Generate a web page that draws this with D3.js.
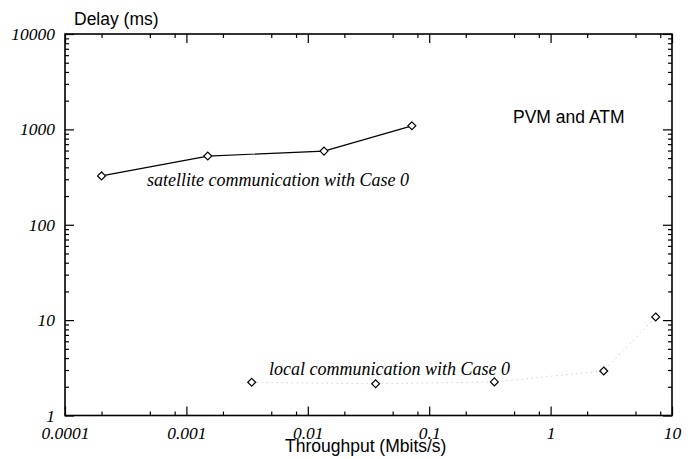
<!DOCTYPE html>
<html>
<head>
<meta charset="utf-8">
<script src="https://cdn.jsdelivr.net/npm/d3@7"></script>
<style>
  body { margin: 0; background: #fff; }
  svg { display: block; }
  .tick text { font-family: "Liberation Serif", serif; font-style: italic; font-size: 17.5px; fill: #000; }
</style>
</head>
<body>
<div id="container"></div>
<script>
// data (throughput in Mbits/s, delay in ms)
let satThroughput = [0.0002, 0.0015, 0.0136, 0.072];
let satDelay = [325, 525, 592, 1090];

let localThroughput = [0.00345, 0.0362, 0.344, 2.74, 7.34];
let localDelay = [2.23, 2.15, 2.25, 2.93, 10.8];

let xMajor = [0.0001, 0.001, 0.01, 0.1, 1, 10];
let xLabels = ["0.0001", "0.001", "0.01", "0.1", "1", "10"];
let yMajor = [1, 10, 100, 1000, 10000];
let yLabels = ["1", "10", "100", "1000", "10000"];
let xMinorMult = [2, 5, 8];
let yMinorMult = [2, 3, 4, 5, 6, 7, 8, 9];

let w = 696;
let h = 459;
let plotLeft = 65, plotRight = 672, plotTop = 34, plotBottom = 415.5;

let viz = d3.select("#container")
    .append("svg")
    .attr("width", w)
    .attr("height", h);

let xScale = d3.scaleLog().domain([0.0001, 10]).range([plotLeft, plotRight]);
let yScale = d3.scaleLog().domain([1, 10000]).range([plotBottom, plotTop]);

// minor tick values from the decades
let xMinor = [];
xMajor.slice(0, -1).forEach(d => xMinorMult.forEach(m => xMinor.push(d * m)));
let yMinor = [];
yMajor.slice(0, -1).forEach(d => yMinorMult.forEach(m => yMinor.push(d * m)));

function styleAxis(g) {
    g.select(".domain").remove();
    g.selectAll("line").attr("stroke", "#000").attr("stroke-width", 1.2);
}

// bottom
viz.append("g").attr("transform", "translate(0," + plotBottom + ")")
    .call(d3.axisBottom(xScale).tickValues(xMinor).tickSize(-4).tickFormat(""))
    .call(styleAxis);
viz.append("g").attr("transform", "translate(0," + plotBottom + ")")
    .call(d3.axisBottom(xScale).tickValues(xMajor).tickSize(-9).tickPadding(11)
        .tickFormat((d, i) => xLabels[i]))
    .call(styleAxis);
// top
viz.append("g").attr("transform", "translate(0," + plotTop + ")")
    .call(d3.axisTop(xScale).tickValues(xMinor).tickSize(-4).tickFormat(""))
    .call(styleAxis);
viz.append("g").attr("transform", "translate(0," + plotTop + ")")
    .call(d3.axisTop(xScale).tickValues(xMajor).tickSize(-9).tickFormat(""))
    .call(styleAxis);
// left
viz.append("g").attr("transform", "translate(" + plotLeft + ",0)")
    .call(d3.axisLeft(yScale).tickValues(yMinor).tickSize(-4).tickFormat(""))
    .call(styleAxis);
viz.append("g").attr("transform", "translate(" + plotLeft + ",0)")
    .call(d3.axisLeft(yScale).tickValues(yMajor).tickSize(-9).tickPadding(10)
        .tickFormat((d, i) => yLabels[i]))
    .call(styleAxis);
// right
viz.append("g").attr("transform", "translate(" + plotRight + ",0)")
    .call(d3.axisRight(yScale).tickValues(yMinor).tickSize(-4).tickFormat(""))
    .call(styleAxis);
viz.append("g").attr("transform", "translate(" + plotRight + ",0)")
    .call(d3.axisRight(yScale).tickValues(yMajor).tickSize(-9).tickFormat(""))
    .call(styleAxis);

// frame
viz.append("rect")
    .attr("x", plotLeft).attr("y", plotTop)
    .attr("width", plotRight - plotLeft).attr("height", plotBottom - plotTop)
    .attr("fill", "none").attr("stroke", "#000").attr("stroke-width", 1.6);

let line = d3.line().x(d => xScale(d[0])).y(d => yScale(d[1]));

let satData = satThroughput.map((d, i) => [d, satDelay[i]]);
let localData = localThroughput.map((d, i) => [d, localDelay[i]]);

viz.append("path").datum(localData)
    .attr("d", line)
    .attr("fill", "none")
    .attr("stroke", "#bbb")
    .attr("stroke-width", 1)
    .attr("stroke-dasharray", "1,4");

viz.append("path").datum(satData)
    .attr("d", line)
    .attr("fill", "none")
    .attr("stroke", "#000")
    .attr("stroke-width", 1.2);

let diamond = d3.symbol().type(d3.symbolDiamond2).size(40);

[satData, localData].forEach(series => {
    viz.append("g").selectAll("path")
        .data(series)
        .enter()
        .append("path")
        .attr("d", diamond)
        .attr("transform", d => "translate(" + xScale(d[0]) + "," + yScale(d[1]) + ")")
        .attr("fill", "#fff")
        .attr("stroke", "#000")
        .attr("stroke-width", 1.2);
});

// texts
function sans(x, y, t) {
    viz.append("text").attr("x", x).attr("y", y).text(t)
        .attr("font-family", "Liberation Sans, Arial, sans-serif")
        .attr("font-size", 17.5).attr("fill", "#000");
}
function serifItalic(x, y, t) {
    viz.append("text").attr("x", x).attr("y", y).text(t)
        .attr("font-family", "Liberation Serif, serif")
        .attr("font-style", "italic")
        .attr("font-size", 18).attr("fill", "#000");
}
sans(74, 25, "Delay (ms)");
sans(285, 452, "Throughput (Mbits/s)");
sans(513, 123, "PVM and ATM");
serifItalic(147, 186, "satellite communication with Case 0");
serifItalic(269, 375, "local communication with Case 0");
</script>
</body>
</html>
